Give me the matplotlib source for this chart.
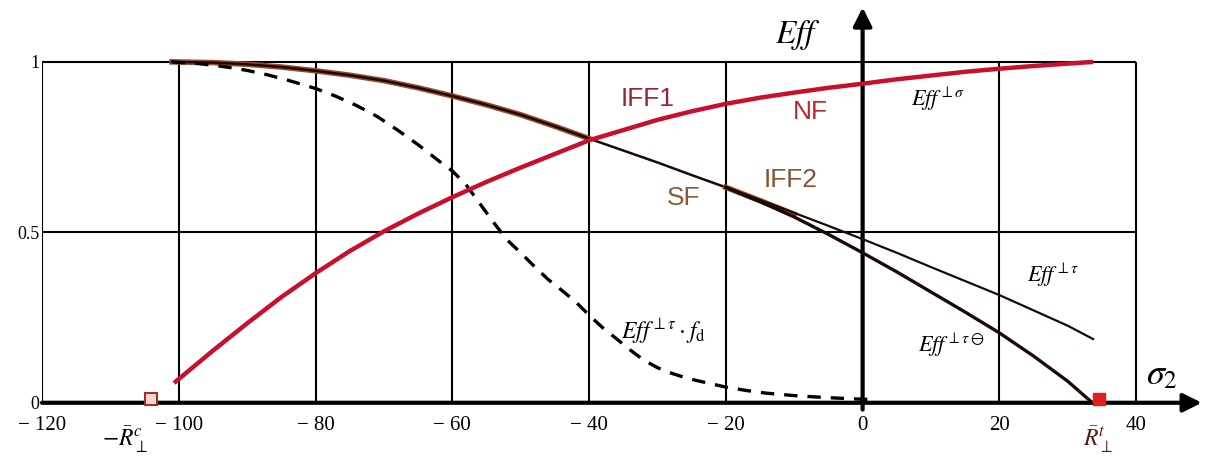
import matplotlib.pyplot as plt

plt.rcParams['mathtext.fontset'] = 'stix'
plt.rcParams['font.family'] = ['Liberation Serif', 'DejaVu Serif']

# NF - red curve
nf_x = [-100.7, -95, -90, -85, -80, -75, -70, -65, -60, -55, -50, -45, -40, -35, -30,
        -25, -20, -15, -10, -5, 0, 5, 10, 15, 20, 25, 30, 33.7]
nf_y = [0.058, 0.153, 0.233, 0.31, 0.38, 0.445, 0.503, 0.555, 0.603, 0.648, 0.69, 0.73,
        0.77, 0.80, 0.83, 0.855, 0.877, 0.895, 0.91, 0.924, 0.936, 0.949, 0.96, 0.971,
        0.98, 0.988, 0.995, 1.0]

# SF common part (IFF1 / IFF2)
sf_x = [-101, -95, -90, -85, -80, -75, -70, -65, -60, -55, -50, -45, -40, -35, -30, -25, -20]
sf_y = [1.0, 0.998, 0.993, 0.985, 0.974, 0.961, 0.945, 0.924, 0.90, 0.874, 0.845, 0.811,
        0.775, 0.74, 0.705, 0.668, 0.632]

# Eff tau (upper thin branch)
tau_x = [-20, -15, -10, -5, 0, 5, 10, 15, 20, 25, 30, 33.7]
tau_y = [0.632, 0.595, 0.557, 0.519, 0.48, 0.44, 0.398, 0.357, 0.316, 0.271, 0.226, 0.187]

# Eff tau theta (lower branch)
tt_x = [-20, -15, -10, -5, 0, 5, 10, 15, 20, 25, 30, 33.6]
tt_y = [0.632, 0.59, 0.545, 0.494, 0.44, 0.384, 0.325, 0.266, 0.205, 0.137, 0.063, 0.0]

# Eff tau * f_d (dashed)
fd_x = [-101, -97, -93, -90, -87, -84, -80, -77, -74, -71, -68, -65, -62, -60, -58, -56,
        -54, -52, -50, -48, -46, -44, -42, -40, -38, -36, -34, -32, -30, -28, -26, -24,
        -22, -20, -17, -14, -10, -6, -2, 0.7]
fd_y = [1.0, 0.995, 0.985, 0.975, 0.962, 0.946, 0.922, 0.899, 0.872, 0.84, 0.80, 0.757,
        0.71, 0.68, 0.64, 0.585, 0.53, 0.478, 0.44, 0.40, 0.362, 0.33, 0.297, 0.257, 0.22,
        0.188, 0.155, 0.125, 0.103, 0.087, 0.074, 0.064, 0.055, 0.046, 0.036, 0.028,
        0.021, 0.016, 0.012, 0.01]

xticks = [-120, -100, -80, -60, -40, -20, 0, 20, 40]
xlabels = ['\u2212 120', '\u2212 100', '\u2212 80', '\u2212 60', '\u2212 40', '\u2212 20', '0', '20', '40']
yticks = [0, 0.5, 1]
ylabels = ['0', '0.5', '1']

fig = plt.figure(figsize=(12.14, 4.57), dpi=100)
ax = fig.add_axes([0.0346, 0.0963, 0.9638, 0.8928])
ax.set_xlim(-120, 51.1)
ax.set_ylim(-0.03, 1.167)
for s in ax.spines.values():
    s.set_visible(False)

# grid box
ax.vlines(xticks, 0, 1, color='k', lw=1.5, zorder=1)
ax.hlines([0.5, 1], -120, 40, color='k', lw=1.5, zorder=1)

# axes with arrows
ax.annotate('', xy=(49.6, 0), xytext=(-120, 0),
            arrowprops=dict(arrowstyle='-|>', lw=3, color='k', mutation_scale=28,
                            shrinkA=0, shrinkB=0), annotation_clip=False)
ax.annotate('', xy=(0, 1.16), xytext=(0, -0.02),
            arrowprops=dict(arrowstyle='-|>', lw=3, color='k', mutation_scale=28,
                            shrinkA=0, shrinkB=0), annotation_clip=False)

ax.set_xticks(xticks)
ax.set_xticklabels(xlabels, fontsize=15)
ax.set_yticks(yticks)
ax.set_yticklabels(ylabels, fontsize=13)
ax.tick_params(length=0, pad=2)

# curves
ax.plot(nf_x, nf_y, color='#c8102e', lw=3.2, zorder=4, solid_capstyle='butt')
ax.plot(sf_x[:13], sf_y[:13], color='#9a4a2a', lw=4, zorder=3)
ax.plot(sf_x, sf_y, color='#1a0a05', lw=1.8, zorder=3)
ax.plot(tau_x[:3], [0.632, 0.593, 0.553], color='#9a4a2a', lw=4, zorder=3)
ax.plot(tau_x, tau_y, color='#1a0a05', lw=1.6, zorder=3)
ax.plot(tt_x, tt_y, color='#1a0a05', lw=2.4, zorder=3)
ax.plot(fd_x, fd_y, color='k', lw=2.4, ls=(0, (4, 3)), zorder=3)

# end markers on the axis
ax.plot([-104], [0.012], marker='s', ms=8, mfc='#f3d9cc', mec='#a0302a', mew=1.5,
        zorder=5, clip_on=False)
ax.plot([34.5], [0.01], marker='s', ms=9, color='#e02020', zorder=5)

# labels
sans = ['Liberation Sans', 'DejaVu Sans']
ax.text(-31.4, 0.89, 'IFF1', color='#9b2335', fontsize=19, family=sans, ha='center', va='center')
ax.text(-7.6, 0.853, 'NF', color='#c0272d', fontsize=19, family=sans, ha='center', va='center')
ax.text(-26.2, 0.60, 'SF', color='#8b5a3c', fontsize=19, family=sans, ha='center', va='center')
ax.text(-10.5, 0.654, 'IFF2', color='#8b5030', fontsize=19, family=sans, ha='center', va='center')

ax.text(11, 0.89, r'$Eff^{\perp\sigma}$', fontsize=16, ha='center', va='center')
ax.text(27.8, 0.375, r'$Eff^{\perp\tau}$', fontsize=16, ha='center', va='center')
ax.text(12.9, 0.17, r'$Eff^{\perp\tau\ominus}$', fontsize=16, ha='center', va='center')
ax.text(-29.1, 0.21, r'$Eff^{\perp\tau}\cdot f_{\rm d}$', fontsize=17, ha='center', va='center')

ax.text(-9.5, 1.08, r'$Eff$', fontsize=24, ha='center', va='center')
ax.text(43.8, 0.08, r'$\sigma_2$', fontsize=26, ha='center', va='center')

ax.text(-107.9, -0.11, r'$-\bar{R}_{\perp}^{c}$', fontsize=17, ha='center', va='center',
        clip_on=False)
ax.text(34.4, -0.11, r'$\bar{R}_{\perp}^{t}$', fontsize=17, ha='center', va='center',
        color='#5a1a10', clip_on=False)

fig.savefig('out.png', dpi=100)
